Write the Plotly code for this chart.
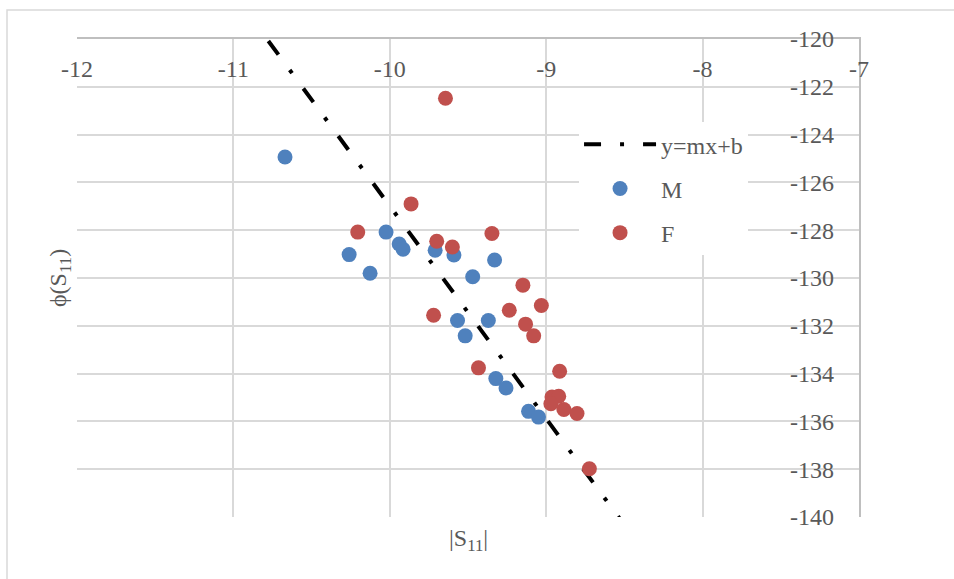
import plotly.graph_objects as go

# ---- data ----
m_x = [-10.67, -10.26, -10.126, -10.024, -9.94, -9.915, -9.71, -9.59, -9.47, -9.33,
       -9.567, -9.37, -9.518, -9.322, -9.257, -9.113, -9.049]
m_y = [-124.94, -129.02, -129.80, -128.08, -128.58, -128.80, -128.84, -129.04, -129.95, -129.25,
       -131.78, -131.78, -132.42, -134.21, -134.60, -135.58, -135.82]

f_x = [-9.644, -9.864, -10.205, -9.70, -9.60, -9.347, -9.149, -9.236, -9.031, -9.72,
       -9.132, -9.08, -9.433, -8.914, -8.963, -8.92, -8.97, -8.887, -8.803, -8.724]
f_y = [-122.48, -126.90, -128.08, -128.46, -128.70, -128.14, -130.30, -131.35, -131.15, -131.56,
       -131.93, -132.42, -133.76, -133.90, -134.98, -134.95, -135.26, -135.50, -135.67, -137.98]

fit_slope = -8.897
fit_intercept = -215.96
fit_x = [-11.0, -8.3]
fit_y = [fit_slope * v + fit_intercept for v in fit_x]

x_tick_vals = [-12, -11, -10, -9, -8, -7]
x_tick_labels = ["-12", "-11", "-10", "-9", "-8", "-7"]
y_tick_vals = [-120, -122, -124, -126, -128, -130, -132, -134, -136, -138, -140]
y_tick_labels = ["-120", "-122", "-124", "-126", "-128", "-130", "-132", "-134", "-136", "-138", "-140"]

FONT = "Liberation Serif"
TXT = "#595959"
GRID = "#D9D9D9"
AXL = "#BFBFBF"

fig = go.Figure()
fig.add_trace(go.Scatter(
    x=fit_x, y=fit_y, mode="lines", name="y=mx+b", legendgroup="a",
    line=dict(color="black", width=4, dash="17px,19px,4px,19px"),
))
fig.add_trace(go.Scatter(
    x=m_x, y=m_y, mode="markers", name="M", legendgroup="b",
    marker=dict(color="#4F81BD", size=15, line=dict(width=0)),
))
fig.add_trace(go.Scatter(
    x=f_x, y=f_y, mode="markers", name="F", legendgroup="c",
    marker=dict(color="#C0504D", size=15, line=dict(width=0)),
))

fig.update_layout(
    width=954, height=579, autosize=False,
    margin=dict(l=77, r=95, t=39, b=62),
    paper_bgcolor="white", plot_bgcolor="white",
    font=dict(family=FONT, size=24, color=TXT),
    showlegend=True,
    legend=dict(
        x=0.642, y=0.826, xanchor="left", yanchor="top",
        bgcolor="white", borderwidth=0,
        font=dict(family=FONT, size=24, color=TXT),
        itemwidth=72, traceorder="grouped", tracegroupgap=10,
    ),
    xaxis=dict(
        range=[-12, -7], side="top", tickvals=x_tick_vals, ticktext=x_tick_labels,
        showgrid=True, gridcolor=GRID, gridwidth=1.5,
        showline=True, linecolor=AXL, linewidth=1.5,
        zeroline=False, ticks="", ticklabelposition="inside",
        ticklabeloverflow="allow", ticklabelstandoff=23,
        tickfont=dict(family=FONT, size=24, color=TXT),
    ),
    yaxis=dict(
        range=[-140, -120], side="right", tickvals=y_tick_vals, ticktext=y_tick_labels,
        showgrid=True, gridcolor=GRID, gridwidth=1.5,
        showline=True, linecolor=AXL, linewidth=1.5,
        zeroline=False, ticks="", ticklabelposition="inside",
        ticklabeloverflow="allow", ticklabelstandoff=27,
        tickfont=dict(family=FONT, size=24, color=TXT),
    ),
    annotations=[
        dict(text="|S<sub>11</sub>|", xref="paper", yref="paper", x=0.5, y=-0.048,
             xanchor="center", yanchor="middle", showarrow=False,
             font=dict(family=FONT, size=24, color=TXT)),
        dict(text="ϕ(S<sub>11</sub>)", xref="paper", yref="paper", x=-0.0217, y=0.5,
             xanchor="center", yanchor="middle", showarrow=False, textangle=-90,
             font=dict(family=FONT, size=24, color=TXT)),
    ],
    shapes=[
        dict(type="rect", xref="paper", yref="paper", x0=-0.0895, y0=-0.3, x1=1.3, y1=1.0607,
             line=dict(color=GRID, width=1.5), layer="below"),
    ],
)

fig.write_html("out.html", config={"displayModeBar": False},
               post_script="document.body.style.margin='0';")
